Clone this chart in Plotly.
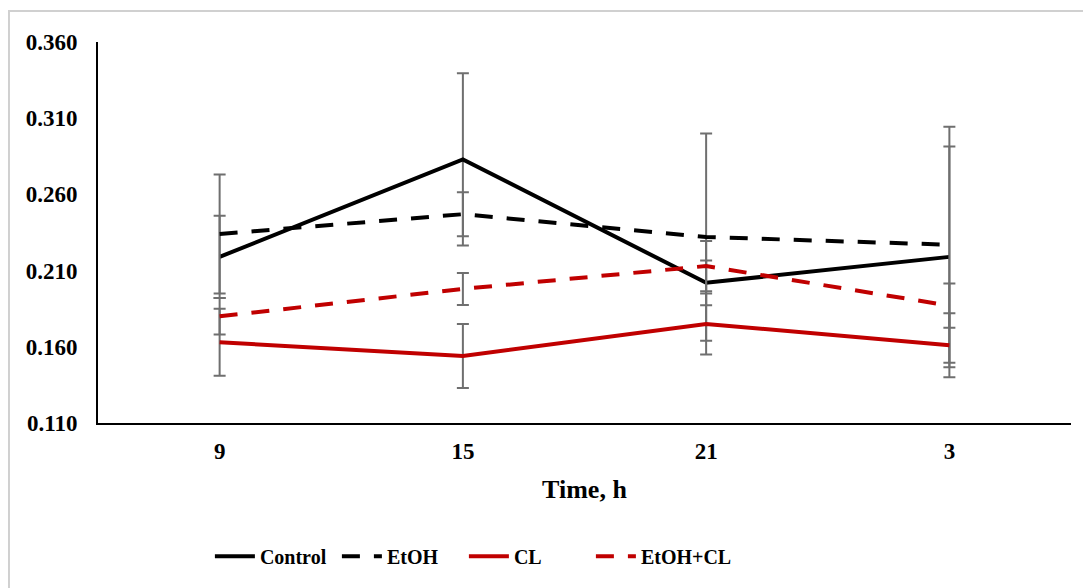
import plotly.graph_objects as go

times = ["9", "15", "21", "3"]
series_names = ["Control", "EtOH", "CL", "EtOH+CL"]
control = [0.219, 0.283, 0.202, 0.219]
control_err = [0.027, 0.0565, 0.0147, 0.0725]
etoh = [0.234, 0.247, 0.232, 0.227]
etoh_err = [0.039, 0.0144, 0.068, 0.0774]
cl = [0.163, 0.154, 0.175, 0.161]
cl_err = [0.022, 0.021, 0.020, 0.021]
etoh_cl = [0.180, 0.198, 0.213, 0.187]
etoh_cl_err = [0.012, 0.0105, 0.0165, 0.0145]
y_ticks = [0.110, 0.160, 0.210, 0.260, 0.310, 0.360]

FONT = "Liberation Serif, Times New Roman, serif"
styles = [
    ("#000000", "solid"),
    ("#000000", "18px,14px"),
    ("#C00000", "solid"),
    ("#C00000", "18px,14px"),
]
values = [control, etoh, cl, etoh_cl]
errors = [control_err, etoh_err, cl_err, etoh_cl_err]

fig = go.Figure()
for name, vals, errs, (color, dash) in zip(series_names, values, errors, styles):
    fig.add_trace(go.Scatter(
        x=times, y=vals, name=name, mode="lines",
        line=dict(color=color, width=4, dash=dash),
        error_y=dict(type="data", array=errs, visible=True,
                     color="#6f6f6f", thickness=2, width=6),
    ))
# invisible spacer entry so the last legend label is not clipped
fig.add_trace(go.Scatter(x=[None], y=[None], name=" ", mode="lines",
                         line=dict(color="rgba(0,0,0,0)", width=0),
                         hoverinfo="skip"))

fig.update_layout(
    width=1083, height=580,
    margin=dict(l=90, r=20, t=34, b=165),
    paper_bgcolor="white", plot_bgcolor="white",
    font=dict(family=FONT, color="black"),
    showlegend=True,
    legend=dict(orientation="h", x=0.115, xanchor="left", y=-0.35, yanchor="middle",
                font=dict(family=FONT, size=20, color="black", weight="bold"),
                itemwidth=40, tracegroupgap=0, entrywidth=72),
    xaxis=dict(type="category", range=[-0.5, 3.5], showline=True, linecolor="black",
               linewidth=2, ticks="", showgrid=False, zeroline=False,
               tickfont=dict(family=FONT, size=23, weight="bold"),
               ticklabelstandoff=6,
               title=dict(text="<b>Time, h</b>", font=dict(family=FONT, size=26), standoff=17)),
    yaxis=dict(range=[0.110, 0.360], tickvals=y_ticks, tickformat=".3f",
               showline=True, linecolor="black", linewidth=2, ticks="",
               showgrid=False, zeroline=False,
               tickfont=dict(family=FONT, size=23, weight="bold"),
               ticklabelstandoff=14),
    shapes=[dict(type="rect", xref="paper", yref="paper",
                 x0=-0.0915, x1=1.05, y0=-0.5, y1=1.0814,
                 line=dict(color="#d0d0d0", width=2), fillcolor="rgba(0,0,0,0)")],
)

fig.write_html("out.html")
